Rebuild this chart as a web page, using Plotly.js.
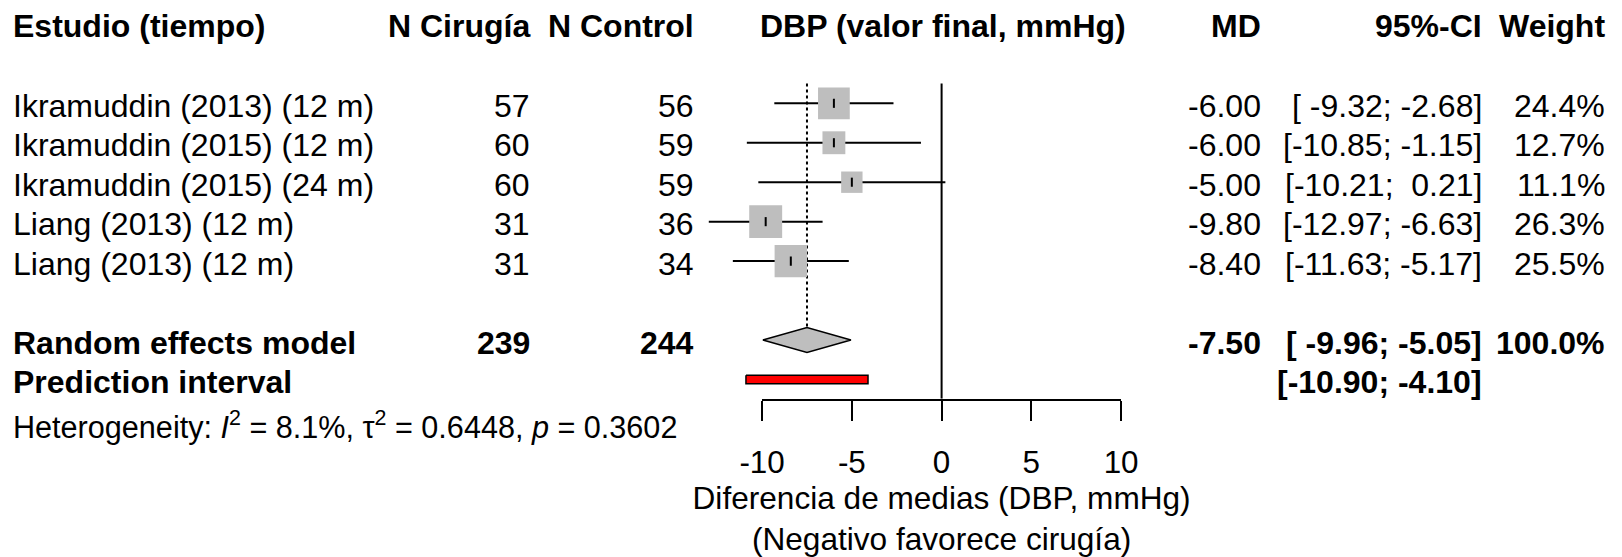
<!DOCTYPE html>
<html>
<head>
<meta charset="utf-8">
<script src="https://cdn.plot.ly/plotly-3.0.1.min.js"></script>
<style>html,body{margin:0;padding:0;background:#fff;}#chart{width:1622px;height:557px;}</style>
</head>
<body>
<div id="chart"></div>
<script>
// ---------------- data ----------------
const studies = ["Ikramuddin (2013) (12 m)", "Ikramuddin (2015) (12 m)", "Ikramuddin (2015) (24 m)", "Liang (2013) (12 m)", "Liang (2013) (12 m)"];
const nSurgery = [57, 60, 60, 31, 31];
const nControl = [56, 59, 59, 36, 34];
const md = [-6.00, -6.00, -5.00, -9.80, -8.40];
const ciLower = [-9.32, -10.85, -10.21, -12.97, -11.63];
const ciUpper = [-2.68, -1.15, 0.21, -6.63, -5.17];
const weights = [24.4, 12.7, 11.1, 26.3, 25.5];
const pooledLabel = "Random effects model";
const pooledN = [239, 244];
const pooledMD = -7.50, pooledLower = -9.96, pooledUpper = -5.05, pooledWeight = 100.0;
const predLabel = "Prediction interval";
const predLower = -10.90, predUpper = -4.10;
const heterogeneity = "Heterogeneity: <i>I</i><sup>2</sup> = 8.1%, \u03c4<sup>2</sup> = 0.6448, <i>p</i> = 0.3602";
const headers = ["Estudio (tiempo)", "N Cirug\u00eda", "N Control", "DBP (valor final, mmHg)", "MD", "95%-CI", "Weight"];
const tickVals = [-10, -5, 0, 5, 10];
const axisTitle = "Diferencia de medias (DBP, mmHg)<br>(Negativo favorece cirug\u00eda)";

// ---------------- layout geometry ----------------
const W = 1622, H = 557;
const ZERO_PX = 941.6, PX_PER = 17.95;
const ROW1_PX = 103.3, ROW_PX = 39.45;
const AXIS_PX = 398.7;
const yTop = 1 - ROW1_PX / ROW_PX;
const yBot = 1 + (AXIS_PX - ROW1_PX) / ROW_PX;
const rowPx = k => ROW1_PX + ROW_PX * (k - 1);
const studyRows = studies.map((_, i) => i + 1);
const pooledRow = 7, predRow = 8;
const DIAM_H = 0.317, PRED_H = 0.106, SQ_SCALE = 6.42;
const FONT = "Liberation Sans, Arial, sans-serif";
const FS = 32;
const TXT_DY = 2.5;
const GREY = "#bebebe";

// ---------------- traces ----------------
const ciX = [], ciY = [];
md.forEach((m, i) => { ciX.push(ciLower[i], ciUpper[i], null); ciY.push(studyRows[i], studyRows[i], null); });

const traces = [
  {type: "scatter", mode: "lines", x: ciX, y: ciY, line: {color: "black", width: 2}, hoverinfo: "skip", showlegend: false},
  {type: "scatter", mode: "markers", x: md, y: studyRows,
   marker: {symbol: "square", color: GREY, opacity: 1, size: weights.map(w => SQ_SCALE * Math.sqrt(w)), line: {width: 0}},
   hoverinfo: "skip", showlegend: false},
  {type: "scatter", mode: "markers", x: md, y: studyRows,
   marker: {symbol: "line-ns", size: 6.5, opacity: 1, color: "black", line: {color: "black", width: 2}},
   hoverinfo: "skip", showlegend: false},
  {type: "scatter", mode: "lines", fill: "toself", fillcolor: GREY,
   x: [pooledLower, pooledMD, pooledUpper, pooledMD, pooledLower],
   y: [pooledRow, pooledRow - DIAM_H, pooledRow, pooledRow + DIAM_H, pooledRow],
   line: {color: "black", width: 1.5}, hoverinfo: "skip", showlegend: false},
  {type: "scatter", mode: "lines", fill: "toself", fillcolor: "red",
   x: [predLower, predUpper, predUpper, predLower, predLower],
   y: [predRow - PRED_H, predRow - PRED_H, predRow + PRED_H, predRow + PRED_H, predRow - PRED_H],
   line: {color: "black", width: 1.5}, hoverinfo: "skip", showlegend: false},
  {type: "scatter", mode: "markers", x: [0], y: [yBot], xaxis: "x2", yaxis: "y",
   marker: {opacity: 0}, hoverinfo: "skip", showlegend: false}
];

// ---------------- text ----------------
const pad = (s, n) => { while (s.length < n) s = "\u00a0" + s; return s; };
const fmtCI = (lo, hi) => "[" + pad(lo.toFixed(2), 6) + ";\u00a0" + pad(hi.toFixed(2), 5) + "]";
const annotations = [];
function ann(text, xpx, ypx, xanchor, bold, size) {
  annotations.push({text: bold ? "<b>" + text + "</b>" : text, xref: "paper", yref: "paper",
    x: xpx / W, y: 1 - ypx / H, xanchor: xanchor, yanchor: "middle", showarrow: false,
    borderpad: 0, borderwidth: 0, font: {family: FONT, size: size || FS, color: "black"}});
}
const COL = {study: 13, nS: 530, nC: 694, plot: 942.5, md: 1261, ci: 1482, w: 1605};
const HEAD_PX = 26.3;
ann(headers[0], COL.study, HEAD_PX, "left", true);
ann(headers[1], COL.nS, HEAD_PX, "right", true);
ann(headers[2], COL.nC, HEAD_PX, "right", true);
ann(headers[3], COL.plot, HEAD_PX, "center", true);
ann(headers[4], COL.md, HEAD_PX, "right", true);
ann(headers[5], COL.ci, HEAD_PX, "right", true);
ann(headers[6], COL.w, HEAD_PX, "right", true);
studies.forEach((s, i) => {
  const y = rowPx(studyRows[i]) + TXT_DY;
  ann(s, COL.study, y, "left", false);
  ann(String(nSurgery[i]), COL.nS, y, "right", false);
  ann(String(nControl[i]), COL.nC, y, "right", false);
  ann(md[i].toFixed(2), COL.md, y, "right", false);
  ann(fmtCI(ciLower[i], ciUpper[i]), COL.ci, y, "right", false);
  ann(weights[i].toFixed(1) + "%", COL.w, y, "right", false);
});
const yP = rowPx(pooledRow) + TXT_DY;
ann(pooledLabel, COL.study, yP, "left", true);
ann(String(pooledN[0]), COL.nS, yP, "right", true);
ann(String(pooledN[1]), COL.nC, yP, "right", true);
ann(pooledMD.toFixed(2), COL.md, yP, "right", true);
ann(fmtCI(pooledLower, pooledUpper), COL.ci, yP, "right", true);
ann(pooledWeight.toFixed(1) + "%", COL.w, yP, "right", true);
const yPr = rowPx(predRow) + TXT_DY;
ann(predLabel, COL.study, yPr, "left", true);
ann(fmtCI(predLower, predUpper), COL.ci, yPr, "right", true);
ann(heterogeneity, COL.study, 425, "left", false, 30.6);

// ---------------- layout ----------------
const layout = {
  width: W, height: H, margin: {l: 0, r: 0, t: 0, b: 0},
  paper_bgcolor: "white", plot_bgcolor: "rgba(0,0,0,0)",
  showlegend: false,
  xaxis: {domain: [0, 1], range: [-ZERO_PX / PX_PER, (W - ZERO_PX) / PX_PER], visible: false, fixedrange: true},
  yaxis: {domain: [1 - AXIS_PX / H, 1], range: [yBot, yTop], visible: false, fixedrange: true},
  xaxis2: {anchor: "y", domain: [(ZERO_PX - 10 * PX_PER) / W, (ZERO_PX + 10 * PX_PER) / W], range: [-10, 10],
    showline: true, linecolor: "black", linewidth: 2, ticks: "outside", ticklen: 20, tickwidth: 2, tickcolor: "black",
    tickmode: "array", tickvals: tickVals, ticktext: tickVals.map(String),
    showgrid: false, zeroline: false, fixedrange: true,
    tickfont: {family: FONT, size: 31.4, color: "black"}, ticklabelstandoff: 15,
    title: {text: axisTitle, font: {family: FONT, size: 31.6, color: "black"}, standoff: 17}},
  shapes: [
    {type: "line", xref: "x", yref: "y", x0: 0, x1: 0, y0: 0.5, y1: yBot, line: {color: "black", width: 2}, layer: "below"},
    {type: "line", xref: "x", yref: "y", x0: pooledMD, x1: pooledMD, y0: 0.5, y1: pooledRow - DIAM_H,
     line: {color: "black", width: 2, dash: "dot"}, layer: "below"}
  ],
  annotations: annotations
};
Plotly.newPlot("chart", traces, layout, {staticPlot: true, displayModeBar: false});
</script>
</body>
</html>
